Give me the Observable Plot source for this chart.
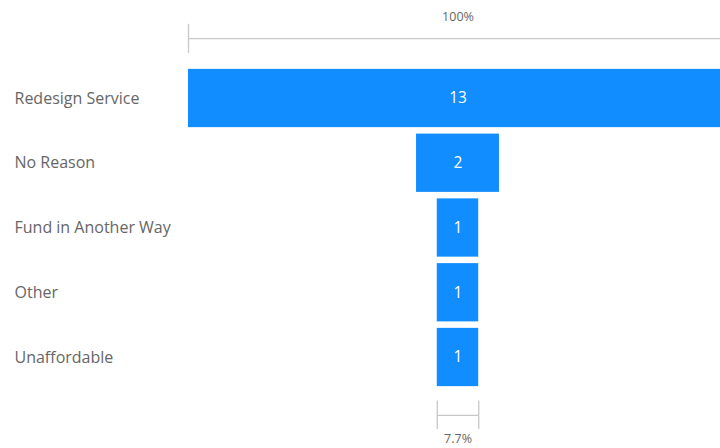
<!DOCTYPE html>
<html>
<head>
<meta charset="utf-8">
<script src="https://cdn.jsdelivr.net/npm/d3@7"></script>
<script src="https://cdn.jsdelivr.net/npm/@observablehq/plot@0.6"></script>
<style>
  html, body { margin: 0; padding: 0; background: #fff; overflow: hidden; }
  #chart { width: 720px; height: 448px; }
</style>
</head>
<body>
<div id="chart"></div>
<script>
const categories = ["Redesign Service", "No Reason", "Fund in Another Way", "Other", "Unaffordable"];
const values = [13, 2, 1, 1, 1];

const data = categories.map((c, i) => ({category: c, value: values[i], row: i}));
const maxV = d3.max(values);
const first = data[0];
const last = data[data.length - 1];
const pct = v => d3.format(".2~r")(v / first.value * 100) + "%";
const font = "'Segoe UI', 'Open Sans', sans-serif";
const grey = "#c8c8c8";

const topRow = -0.926, botRow = last.row + 0.893;

const plot = Plot.plot({
  width: 720,
  height: 448,
  margin: 0,
  style: {fontFamily: font, background: "#fff"},
  x: {domain: [-maxV / 2, maxV / 2], range: [188, 727], axis: null},
  y: {domain: [0, categories.length - 1], range: [98, 357], axis: null},
  marks: [
    Plot.rect(data, {
      x1: d => -d.value / 2, x2: d => d.value / 2,
      y1: d => d.row - 0.45, y2: d => d.row + 0.45,
      fill: "#118DFF", clip: true
    }),
    Plot.text(data, {
      x: 0, y: "row", text: d => String(d.value),
      fill: "white", fontSize: 15.5, clip: true
    }),
    Plot.text(data, {
      y: "row", text: "category", frameAnchor: "left", dx: 14,
      textAnchor: "start", fill: "#666", fontSize: 16
    }),
    // top bracket (first stage = 100%)
    Plot.ruleY([first], {y: topRow, x1: d => -d.value / 2, x2: d => d.value / 2, stroke: grey, strokeWidth: 1.3}),
    Plot.ruleX([first], {x: d => -d.value / 2, y1: topRow - 0.22, y2: topRow + 0.23, stroke: grey, strokeWidth: 1.3}),
    Plot.ruleX([first], {x: d => d.value / 2, y1: topRow - 0.22, y2: topRow + 0.23, stroke: grey, strokeWidth: 1.3}),
    Plot.text([first], {x: 0, y: topRow - 0.33, text: d => pct(d.value), fill: "#666", fontSize: 12.5}),
    // bottom bracket (last stage)
    Plot.ruleY([last], {y: botRow, x1: d => -d.value / 2, x2: d => d.value / 2, stroke: grey, strokeWidth: 1.3}),
    Plot.ruleX([last], {x: d => -d.value / 2, y1: botRow - 0.22, y2: botRow + 0.22, stroke: grey, strokeWidth: 1.3}),
    Plot.ruleX([last], {x: d => d.value / 2, y1: botRow - 0.22, y2: botRow + 0.22, stroke: grey, strokeWidth: 1.3}),
    Plot.text([last], {x: 0, y: botRow + 0.36, text: d => pct(d.value), fill: "#666", fontSize: 12.5})
  ]
});
document.getElementById("chart").append(plot);
</script>
</body>
</html>
